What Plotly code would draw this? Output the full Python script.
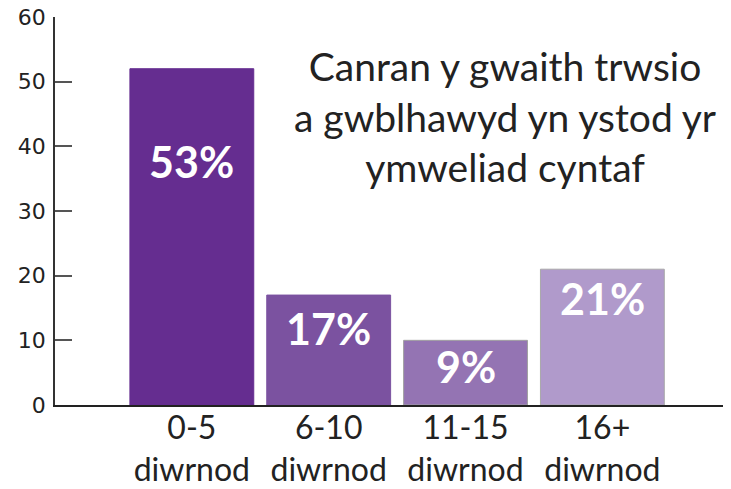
import plotly.graph_objects as go

categories = ["0-5<br>diwrnod", "6-10<br>diwrnod", "11-15<br>diwrnod", "16+<br>diwrnod"]
values = [52, 17, 10, 21]
labels = ["53%", "17%", "9%", "21%"]
label_y = [37.6, 11.9, 6.0, 16.5]
colors = ["#652D90", "#7B52A0", "#9474B3", "#B09ACB"]
line_colors = ["#652D90", "#7B52A0", "#A0A0A0", "#A8A8A8"]
y_ticks = [0, 10, 20, 30, 40, 50, 60]
title_text = "Canran y gwaith trwsio<br>a gwblhawyd yn ystod yr<br>ymweliad cyntaf"

x = list(range(len(categories)))

fig = go.Figure()
fig.add_trace(go.Bar(
    x=x, y=values,
    marker=dict(color=colors, line=dict(color=line_colors, width=1)),
    hoverinfo="skip",
))

for xi, ly, lab in zip(x, label_y, labels):
    fig.add_annotation(x=xi, y=ly, text=lab, showarrow=False,
                       font=dict(family="Lato", size=43, color="white", weight="bold"),
                       xanchor="center", yanchor="middle")

fig.add_annotation(x=2.29, y=44.6, text=title_text, showarrow=False,
                   xanchor="center", yanchor="middle",
                   font=dict(family="Lato", size=39, color="#222222"))

fig.update_layout(
    width=731, height=489,
    margin=dict(l=47, r=8, t=9, b=92),
    plot_bgcolor="white", paper_bgcolor="white",
    bargap=0.095,
    showlegend=False,
)
fig.update_xaxes(
    range=[-1, 3.94],
    tickvals=x, ticktext=categories,
    tickfont=dict(family="Lato", size=32, color="#222222"),
    showline=True, linecolor="#222222", linewidth=2,
    ticks="", showgrid=False, zeroline=False,
    ticklabelstandoff=-6,
    ticklabeloverflow="allow",
    automargin=False,
)
fig.update_yaxes(
    range=[0, 60],
    tickvals=y_ticks,
    tickfont=dict(family="DejaVu Sans", size=22, color="#222222"),
    showline=True, linecolor="#333333", linewidth=1.5,
    ticks="inside", ticklen=17, tickcolor="#555555", tickwidth=1.5,
    showgrid=False, zeroline=False,
    ticklabelstandoff=3,
    ticklabeloverflow="allow",
    automargin=False,
)

fig.write_html("out.html")
